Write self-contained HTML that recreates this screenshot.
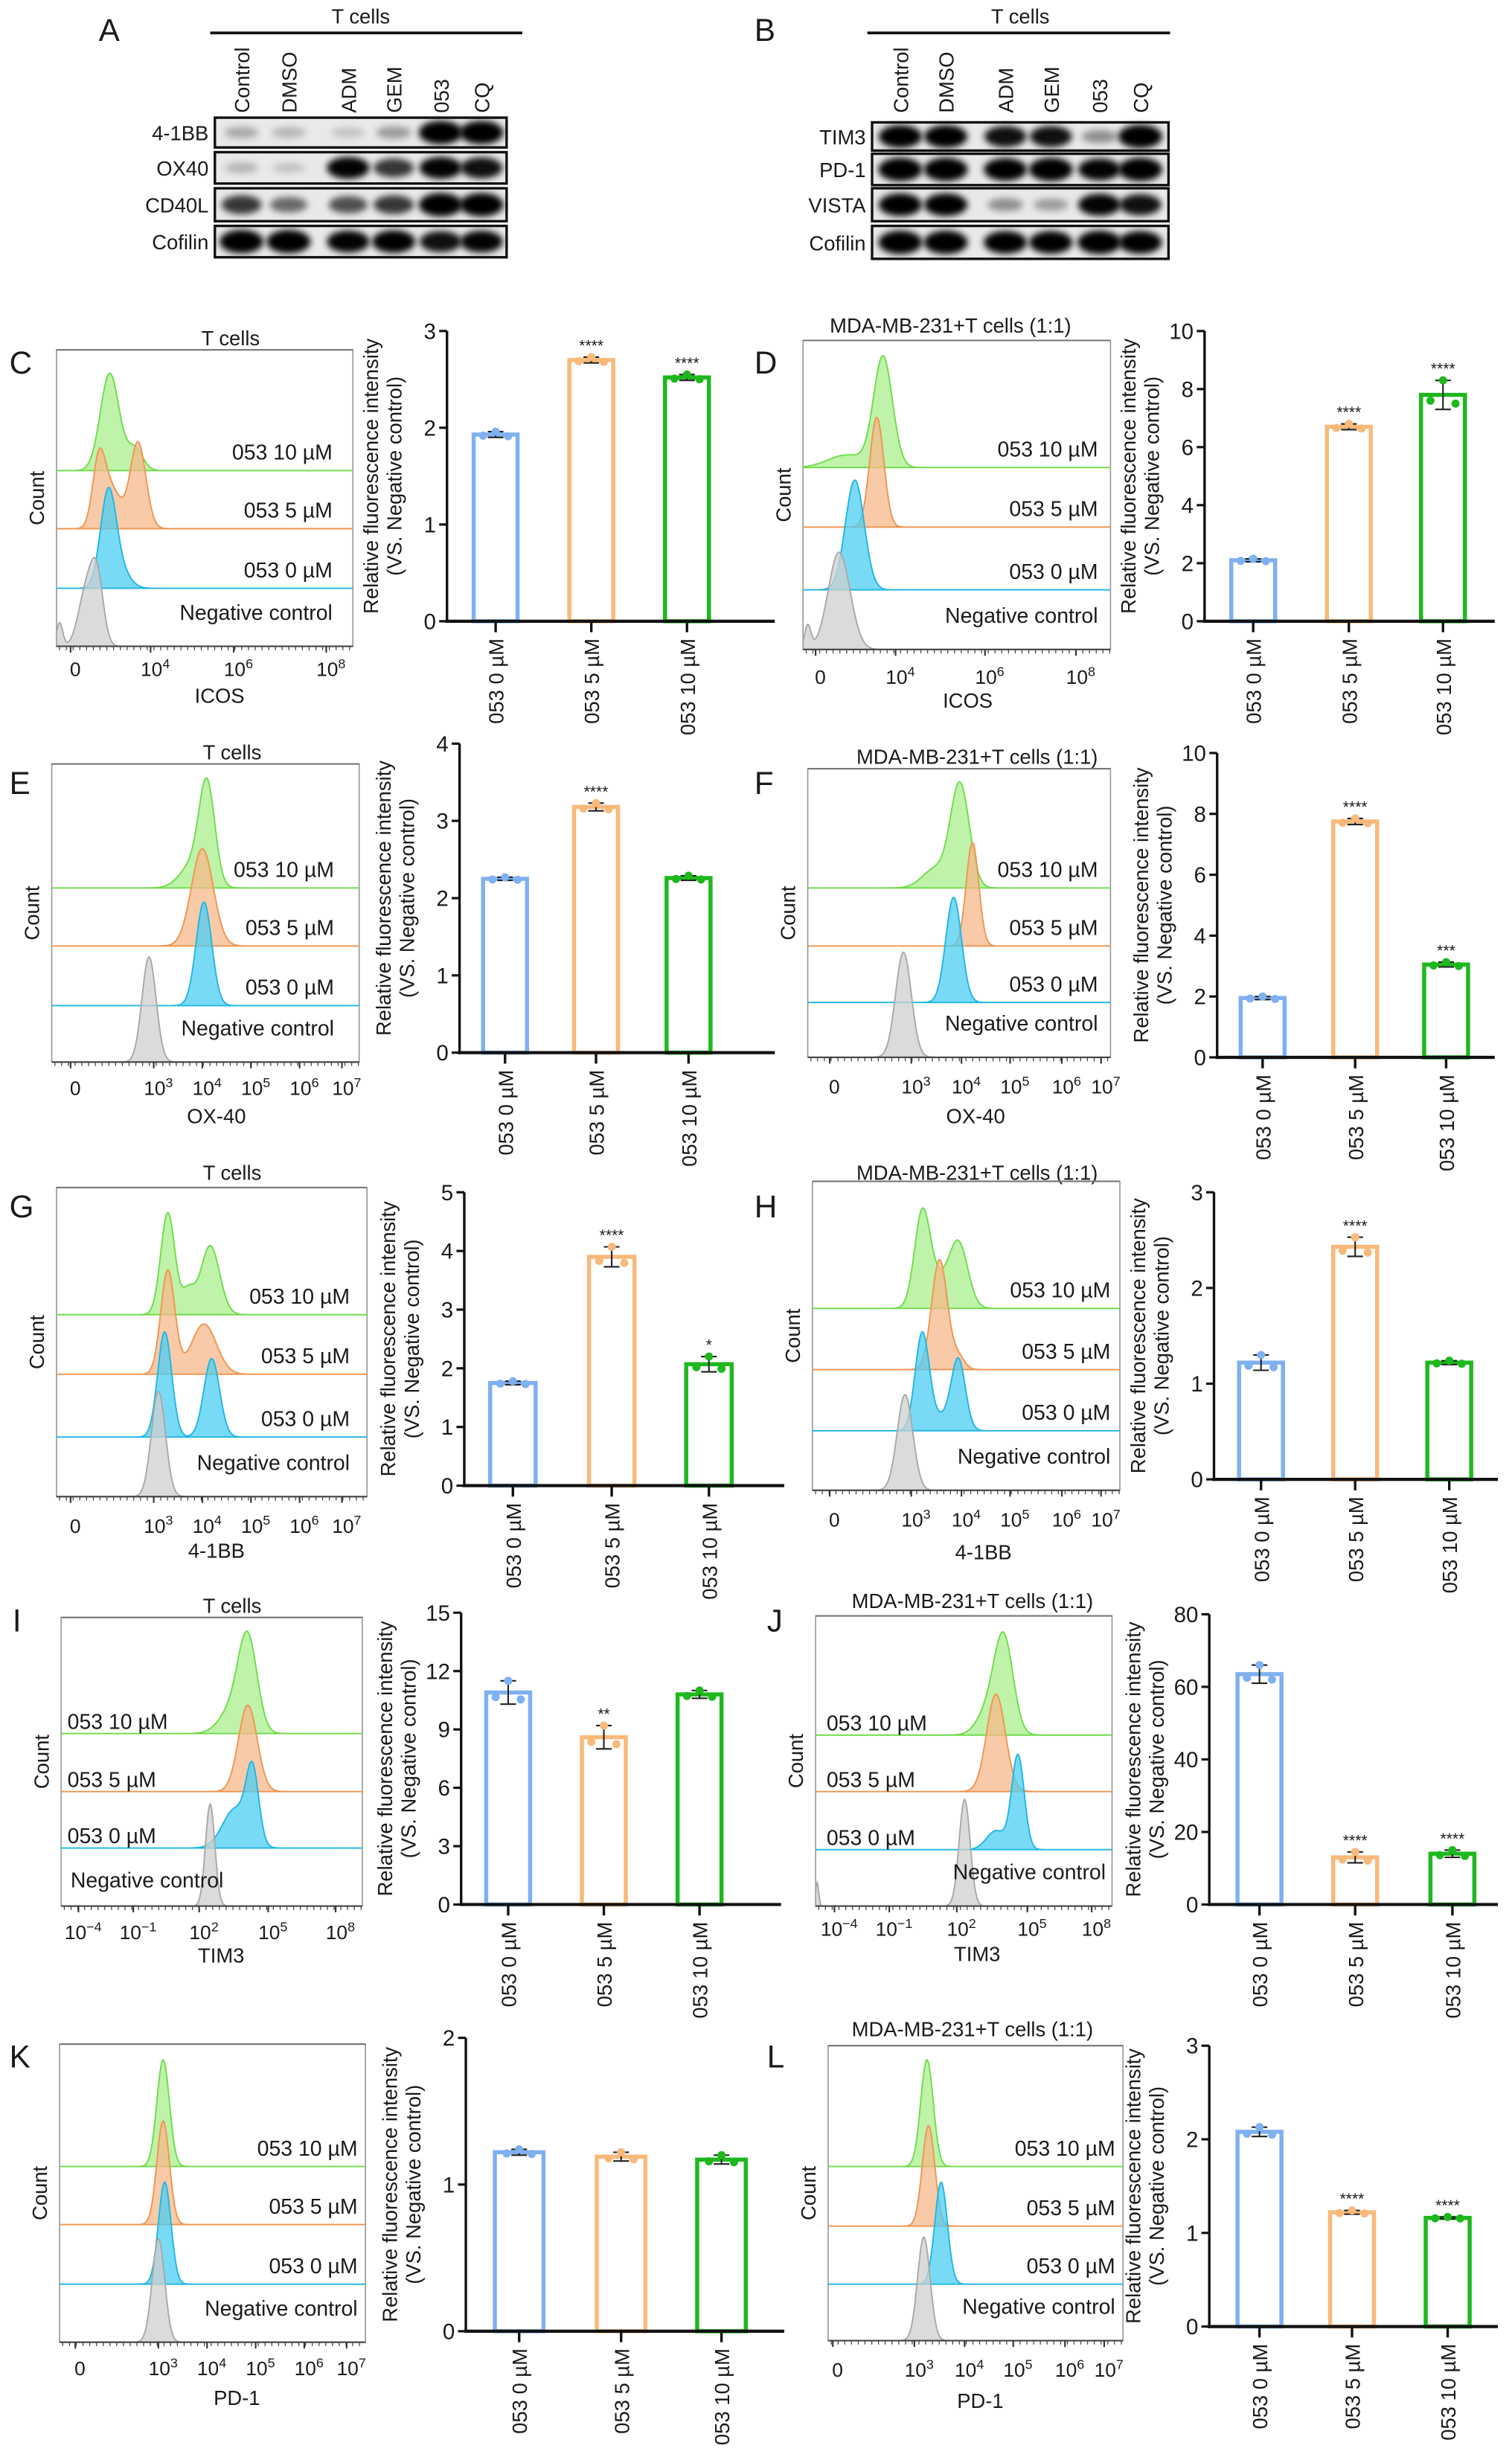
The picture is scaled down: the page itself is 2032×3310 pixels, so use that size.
<!DOCTYPE html>
<html><head><meta charset="utf-8"><style>
html,body{margin:0;padding:0;background:#fff;}
svg{display:block;}
text{font-family:"Liberation Sans",sans-serif;fill:#1a1a1a;}
</style></head><body>
<svg id="fig" xmlns="http://www.w3.org/2000/svg" width="2032" height="3310" viewBox="0 0 964 1570" preserveAspectRatio="none">
<defs><filter id="blur" x="-50%" y="-100%" width="200%" height="300%"><feGaussianBlur stdDeviation="2.2"/></filter></defs>
</svg>
<script>
// ---------- data ----------
const laneLabels = ["Control","DMSO","ADM","GEM","053","CQ"];
const blotARows = ["4-1BB","OX40","CD40L","Cofilin"];
const blotA_41BB = [0.25,0.2,0.15,0.3,1,1];
const blotA_OX40 = [0.2,0.15,0.9,0.7,0.9,0.85];
const blotA_CD40L = [0.7,0.5,0.6,0.7,1,1];
const blotA_Cof = [1,1,0.9,0.95,0.85,0.9];
const blotBRows = ["TIM3","PD-1","VISTA","Cofilin"];
const blotB_TIM3 = [0.95,0.95,0.85,0.85,0.35,1];
const blotB_PD1 = [1,1,0.95,1,0.9,1];
const blotB_VISTA = [0.95,0.95,0.35,0.3,0.9,0.85];
const blotB_Cof = [1,1,0.95,0.95,1,0.95];

const categories = ["053 0 µM","053 5 µM","053 10 µM"];
const histLabels = ["053 10 µM","053 5 µM","053 0 µM","Negative control"];
const valsC=[1.93,2.70,2.52], errC=[0.03,0.03,0.03], starsC=["","****","****"], ticksC=[0,1,2,3];
const valsD=[2.1,6.7,7.8], errD=[0.05,0.1,0.5], starsD=["","****","****"], ticksD=[0,2,4,6,8,10];
const valsE=[2.25,3.18,2.26], errE=[0.02,0.05,0.03], starsE=["","****",""], ticksE=[0,1,2,3,4];
const valsF=[1.95,7.75,3.05], errF=[0.05,0.1,0.08], starsF=["","****","***"], ticksF=[0,2,4,6,8,10];
const valsG=[1.75,3.9,2.07], errG=[0.03,0.17,0.13], starsG=["","****","*"], ticksG=[0,1,2,3,4,5];
const valsH=[1.22,2.43,1.22], errH=[0.08,0.1,0.02], starsH=["","****",""], ticksH=[0,1,2,3];
const valsI=[10.9,8.6,10.8], errI=[0.6,0.6,0.2], starsI=["","**",""], ticksI=[0,3,6,9,12,15];
const valsJ=[63.5,13,14], errJ=[2.5,1.5,1], starsJ=["","****","****"], ticksJ=[0,20,40,60,80];
const valsK=[1.22,1.19,1.17], errK=[0.02,0.03,0.03], starsK=["","",""], ticksK=[0,1,2];
const valsL=[2.08,1.22,1.16], errL=[0.05,0.02,0.01], starsL=["","****","****"], ticksL=[0,1,2,3];

// histogram components: [center, sigma, height] for green, orange, blue, grey
const histC=[[[70,6,62],[86,5,14]],[[63,4,40],[71,6,25],[88,5,55]],[[69,5,60],[77,6,10]],[[55,5,35],[62,4,40],[38,2,15]]];
const histD=[[[563,6,70],[540,12,8]],[[559,4.5,70]],[[545,6,70]],[[535,7,62],[515,2,15]]];
const histE=[[[132,5,62],[123,8,15]],[[129,7,62]],[[130,5,66]],[[95,4.5,67]]];
const histF=[[[612,6,66],[596,8,12]],[[620,4,66]],[[608,5,67]],[[576,5,67]]];
const histG=[[[107,4.5,65],[134,6,44],[120,4,15]],[[107,4.5,66],[130,8,32]],[[105,4.5,67],[135,5,50]],[[101,4.5,67]]];
const histH=[[[588,5,60],[611,6,42],[598,6,15]],[[599,5,70],[611,4,8]],[[588,4.5,62],[611,4.5,45],[600,6,8]],[[577,5,61]]];
const histI=[[[158,6,58],[148,8,15]],[[158,6,55]],[[161,4,45],[150,8,25]],[[134,3,65]]];
const histJ=[[[640,6,60],[630,7,15]],[[635,6,62]],[[649,4,60],[635,6,12]],[[615,3.5,68],[521,1,15]]];
const histK=[[[104,4,68]],[[104,4,66]],[[105,4,65]],[[101,4,66]]];
const histL=[[[591,4,68]],[[592,4,64]],[[600,4,65]],[[589,4,66]]];

// ---------- helpers ----------
const NS="http://www.w3.org/2000/svg";
const svg=document.getElementById('fig');
function mk(tag,attrs,parent){const e=document.createElementNS(NS,tag);for(const k in attrs)e.setAttribute(k,attrs[k]);(parent||svg).appendChild(e);return e;}
function txt(s,x,y,size,anchor,parent,extra){const t=mk('text',Object.assign({x:x,y:y,'font-size':size,'text-anchor':anchor||'start'},extra||{}),parent);t.textContent=s;return t;}
function supTick(base,exp,x,y,parent){const t=mk('text',{x:x,y:y,'font-size':12.5,'text-anchor':'middle'},parent);
  const a=mk('tspan',{},t);a.textContent=base;
  if(exp!==null){const b=mk('tspan',{dy:-5,'font-size':8.5},t);b.textContent=exp;}
  return t;}

const COLS=[{f:'#a8ef8c',s:'#6fdc4a'},{f:'#f5b88a',s:'#ef9550'},{f:'#4ccdf2',s:'#1fb6e4'},{f:'#cfcfcf',s:'#a8a8a8'}];
const BARC=['#7fb0f0','#f9b97a','#1db81d'];

// ---------- western blots ----------
function blot(cfg,rows,data,namePrefix){
  const g=mk('g',{});
  
  
  const L=mk('text',{x:cfg.letterX,y:26,'font-size':20},g);L.textContent=cfg.letter;
  
  
  const tt=txt('T cells',(cfg.x0+cfg.x1)/2,15,13,'middle',g);
  
  
  mk('line',{x1:cfg.lx0,y1:21,x2:cfg.lx1,y2:21,stroke:'#111','stroke-width':1.8},g);
  laneLabels.forEach((l,i)=>{const t=mk('text',{x:0,y:0,'font-size':13,transform:`translate(${cfg.lanes[i]+5},${cfg.labY}) rotate(-90)`},g);t.textContent=l;
    
    });
  rows.forEach((r,ri)=>{
    const [y0,y1]=cfg.rows[ri];
    const rl=txt(r,cfg.x0-4,(y0+y1)/2+5,13,'end',g);
    
    
    mk('rect',{x:cfg.x0,y:y0,width:cfg.x1-cfg.x0,height:y1-y0,fill:'#e9e9e9'},g);
    data[ri].forEach((v,i)=>{
      const b=mk('ellipse',{cx:cfg.lanes[i],cy:(y0+y1)/2,rx:10+4*v,ry:2.5+5*v,fill:'#000','fill-opacity':Math.min(1,v*1.1),filter:'url(#blur)'},g);
      
      
    });
    mk('rect',{x:cfg.x0,y:y0,width:cfg.x1-cfg.x0,height:y1-y0,fill:'none',stroke:'#111','stroke-width':1.6},g);
  });
}
blot({letter:'A',letterX:63,x0:137,x1:323,lx0:134,lx1:333,labY:72,lanes:[154,184,222,251,281,307],rows:[[75,94],[97,117],[120,141],[144,164]]},blotARows,[blotA_41BB,blotA_OX40,blotA_CD40L,blotA_Cof],'a');
blot({letter:'B',letterX:481,x0:556,x1:745,lx0:553,lx1:746,labY:72,lanes:[574,603,641,670,701,727],rows:[[78,96],[98,118],[120,141],[144,165]]},blotBRows,[blotB_TIM3,blotB_PD1,blotB_VISTA,blotB_Cof],'b');

// ---------- flow histogram panels ----------
function histPanel(p){
  const g=mk('g',{});
  
  
  const L=mk('text',{x:p.lx,y:p.ly,'font-size':20},g);L.textContent=p.letter;
  
  
  if(p.title){const t=txt(p.title,p.tx,p.ty,13,'middle',g);
    
    }
  mk('rect',{x:p.x0,y:p.y0,width:p.x1-p.x0,height:p.y1-p.y0,fill:'none',stroke:'#9a9a9a','stroke-width':0.8},g);
  mk('line',{x1:p.x0,y1:p.y0,x2:p.x1,y2:p.y0,stroke:'#777','stroke-width':1},g);
  const c=mk('text',{x:0,y:0,'font-size':13,'text-anchor':'middle',transform:`translate(${p.x0-8},${(p.y0+p.y1)/2}) rotate(-90)`},g);c.textContent='Count';
  
  
  const bases=[p.b[0],p.b[1],p.b[2],p.y1];
  for(let k=0;k<4;k++){
    let d=`M${p.x0},${bases[k]}`;
    for(let x=p.x0;x<=p.x1;x+=0.5){let y=0;p.h[k].forEach(cm=>{y+=cm[2]*Math.exp(-((x-cm[0])**2)/(2*cm[1]*cm[1]));});d+=` L${x.toFixed(1)},${(bases[k]-y).toFixed(2)}`;}
    d+=` L${p.x1},${bases[k]} Z`;
    const path=mk('path',{d:d,fill:COLS[k].f,'fill-opacity':0.75,stroke:COLS[k].s,'stroke-width':0.9},g);
    
    
  }
  histLabels.forEach((l,k)=>{
    let x,anchor,y;
    if(p.leftLabels && k<3){x=p.llx;anchor='start';y=bases[k]-3;}
    else if(p.leftLabels && k===3 && p.negLeft){x=p.llx+2;anchor='start';y=p.y1-12;}
    else {x=p.rx;anchor='end';y=(k<3)?bases[k]-7:p.y1-17;}
    const t=txt(l,x,y,13.5,anchor,g);
    
    
  });
  mk('line',{x1:p.x0,y1:p.y1,x2:p.x1,y2:p.y1,stroke:'#444','stroke-width':1},g);
  for(let x=p.x0+2;x<p.x1;x+=4.3){mk('line',{x1:x,y1:p.y1,x2:x,y2:p.y1+2.5,stroke:'#444','stroke-width':0.6},g);}
  p.ticks.forEach(t=>{const tk=supTick(t[0],t[1],t[2],p.tickY,g);
    
    
    mk('line',{x1:t[2]-3,y1:p.y1,x2:t[2]-3,y2:p.y1+4,stroke:'#333','stroke-width':1},g);});
  const xt=txt(p.xtitle,p.xtx,p.xty,13,'middle',g);
  
  
}

// ---------- bar chart panels ----------
function barPanel(p,vals,errs,stars,ticks){
  const g=mk('g',{});
  
  
  const ymax=ticks[ticks.length-1];
  const Y=v=>p.y0-(v/ymax)*(p.y0-p.top);
  mk('line',{x1:p.ax,y1:p.top,x2:p.ax,y2:p.y0+1,stroke:'#111','stroke-width':1.6},g);
  ticks.forEach(t=>{mk('line',{x1:p.ax-5,y1:Y(t),x2:p.ax,y2:Y(t),stroke:'#111','stroke-width':1.5},g);
    const tl=txt(String(t),p.ax-7,Y(t)+5,14,'end',g);
    
    });
  const yt=mk('text',{x:0,y:0,'font-size':13,'text-anchor':'middle',transform:`translate(${p.ax-44},${(p.y0+p.top)/2}) rotate(-90)`},g);yt.textContent='Relative fluorescence intensity';
  
  
  const yt2=mk('text',{x:0,y:0,'font-size':13,'text-anchor':'middle',transform:`translate(${p.ax-29},${(p.y0+p.top)/2}) rotate(-90)`},g);yt2.textContent='(VS. Negative control)';
  
  
  vals.forEach((v,i)=>{
    const cx=p.ax+p.off[i], w=p.w;
    const bar=mk('rect',{x:cx-w/2,y:Y(v),width:w,height:p.y0-Y(v),fill:'#fff',stroke:BARC[i],'stroke-width':2.6},g);
    
    
    const e=errs[i];
    mk('line',{x1:cx,y1:Y(v+e),x2:cx,y2:Y(v-e),stroke:'#222','stroke-width':1},g);
    mk('line',{x1:cx-5,y1:Y(v+e),x2:cx+5,y2:Y(v+e),stroke:'#222','stroke-width':1},g);
    mk('line',{x1:cx-5,y1:Y(v-e),x2:cx+5,y2:Y(v-e),stroke:'#222','stroke-width':1},g);
    [[-8,v-e*0.4],[0,v+e],[8,v-e*0.6]].forEach(d=>{const dot=mk('circle',{cx:cx+d[0],cy:Y(d[1]),r:2.6,fill:BARC[i]},g);
      
      });
    if(stars[i]){const s=txt(stars[i],cx,Y(v+e)-4,10,'middle',g);
      
      }
    mk('line',{x1:cx,y1:p.y0,x2:cx,y2:p.y0+7,stroke:'#111','stroke-width':1.6},g);
    const cl=mk('text',{x:0,y:0,'font-size':13,'text-anchor':'end',transform:`translate(${cx+5},${p.y0+11}) rotate(-90)`},g);cl.textContent=categories[i];
    
    
  });
  mk('line',{x1:p.ax-1,y1:p.y0,x2:p.xend,y2:p.y0,stroke:'#111','stroke-width':2},g);
}

const tIcosL=[["0",null,48],["10","4",99],["10","6",152],["10","8",211]];
const tIcosR=[["0",null,523],["10","4",574],["10","6",631],["10","8",689]];
const tLogL=[["0",null,48],["10","3",101],["10","4",132],["10","5",163],["10","6",194],["10","7",221]];
const tLogR=[["0",null,532],["10","3",584],["10","4",616],["10","5",647],["10","6",680],["10","7",705]];
const tTimL=[["10","−4",53],["10","−1",88],["10","2",130],["10","5",174],["10","8",217]];
const tTimR=[["10","−4",535],["10","−1",570],["10","2",613],["10","5",658],["10","8",699]];

histPanel({letter:'C',lx:6,ly:238,title:'T cells',tx:147,ty:220,x0:36,x1:225,y0:223,y1:412,b:[300,337,375],h:histC,rx:212,ticks:tIcosL,tickY:431,xtitle:'ICOS',xtx:140,xty:448});
histPanel({letter:'D',lx:481,ly:238,title:'MDA-MB-231+T cells (1:1)',tx:606,ty:212,x0:512,x1:708,y0:217,y1:414,b:[298,336,376],h:histD,rx:700,ticks:tIcosR,tickY:436,xtitle:'ICOS',xtx:617,xty:451});
histPanel({letter:'E',lx:6,ly:506,title:'T cells',tx:148,ty:484,x0:33,x1:229,y0:487,y1:677,b:[566,603,641],h:histE,rx:213,ticks:tLogL,tickY:698,xtitle:'OX-40',xtx:138,xty:716});
histPanel({letter:'F',lx:481,ly:506,title:'MDA-MB-231+T cells (1:1)',tx:623,ty:487,x0:515,x1:708,y0:490,y1:674,b:[566,603,639],h:histF,rx:700,ticks:tLogR,tickY:697,xtitle:'OX-40',xtx:622,xty:716});
histPanel({letter:'G',lx:6,ly:776,title:'T cells',tx:148,ty:752,x0:36,x1:234,y0:757,y1:954,b:[838,876,916],h:histG,rx:223,ticks:tLogL,tickY:977,xtitle:'4-1BB',xtx:138,xty:993});
histPanel({letter:'H',lx:481,ly:776,title:'MDA-MB-231+T cells (1:1)',tx:623,ty:752,x0:518,x1:714,y0:753,y1:950,b:[834,873,912],h:histH,rx:708,ticks:tLogR,tickY:973,xtitle:'4-1BB',xtx:627,xty:994});
histPanel({letter:'I',lx:8,ly:1040,title:'T cells',tx:148,ty:1028,x0:39,x1:231,y0:1031,y1:1215,b:[1105,1142,1178],h:histI,leftLabels:true,negLeft:true,llx:43,ticks:tTimL,tickY:1236,xtitle:'TIM3',xtx:141,xty:1251});
histPanel({letter:'J',lx:489,ly:1040,title:'MDA-MB-231+T cells (1:1)',tx:620,ty:1025,x0:520,x1:709,y0:1030,y1:1215,b:[1106,1142,1179],h:histJ,leftLabels:true,negLeft:false,llx:527,rx:705,ticks:tTimR,tickY:1234,xtitle:'TIM3',xtx:623,xty:1250});
histPanel({letter:'K',lx:6,ly:1318,title:null,x0:38,x1:233,y0:1303,y1:1493,b:[1381,1418,1456],h:histK,rx:228,ticks:tLogL.map(t=>[t[0],t[1],t[2]+3]),tickY:1514,xtitle:'PD-1',xtx:151,xty:1533});
histPanel({letter:'L',lx:489,ly:1318,title:'MDA-MB-231+T cells (1:1)',tx:620,ty:1298,x0:528,x1:716,y0:1304,y1:1492,b:[1381,1419,1456],h:histL,rx:711,ticks:tLogR.map(t=>[t[0],t[1],t[2]+2]),tickY:1515,xtitle:'PD-1',xtx:625,xty:1535});

barPanel({id:'c',ax:285,y0:396,top:211,off:[31,92,153],w:28,xend:494},valsC,errC,starsC,ticksC);
barPanel({id:'d',ax:768,y0:396,top:211,off:[31,92,152],w:28,xend:953},valsD,errD,starsD,ticksD);
barPanel({id:'e',ax:293,y0:671,top:474,off:[29,87,146],w:28,xend:494},valsE,errE,starsE,ticksE);
barPanel({id:'f',ax:776,y0:674,top:480,off:[29,88,146],w:28,xend:953},valsF,errF,starsF,ticksF);
barPanel({id:'g',ax:296,y0:947,top:760,off:[31,94,156],w:29,xend:500},valsG,errG,starsG,ticksG);
barPanel({id:'h',ax:774,y0:943,top:760,off:[30,90,150],w:28,xend:955},valsH,errH,starsH,ticksH);
barPanel({id:'i',ax:294,y0:1214,top:1028,off:[30,91,152],w:28,xend:498},valsI,errI,starsI,ticksI);
barPanel({id:'j',ax:771,y0:1214,top:1029,off:[32,93,155],w:28,xend:955},valsJ,errJ,starsJ,ticksJ);
barPanel({id:'k',ax:297,y0:1486,top:1299,off:[34,99,163],w:31,xend:500},valsK,errK,starsK,ticksK);
barPanel({id:'l',ax:771,y0:1483,top:1304,off:[32,91,152],w:28,xend:955},valsL,errL,starsL,ticksL);
</script>
</body></html>
